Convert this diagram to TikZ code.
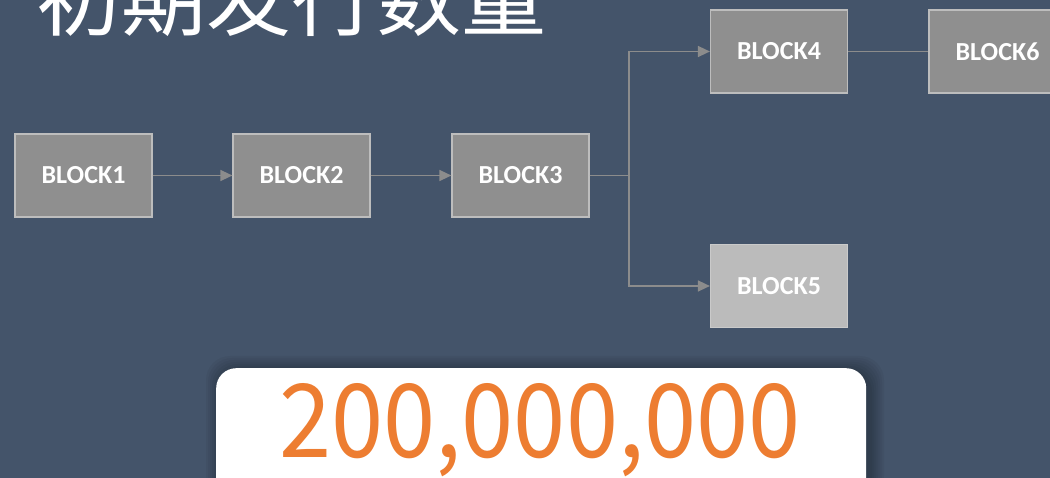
\documentclass[tikz,border=0pt]{standalone}
\usepackage{fontspec}
\setmainfont{Carlito}
\newfontfamily\cjkfont{Noto Sans CJK SC}
\newfontfamily\numfont[FakeStretch=0.92]{Noto Sans CJK SC}
\usetikzlibrary{arrows.meta}
\definecolor{slate}{HTML}{44546A}
\definecolor{blockfill}{HTML}{8F8F8F}
\definecolor{blockline}{HTML}{BDBDBD}
\definecolor{blocklight}{HTML}{BBBBBB}
\definecolor{blocklightline}{HTML}{CACACA}
\definecolor{linkgray}{HTML}{8C8C8C}
\definecolor{amountorange}{HTML}{ED7D31}

\begin{document}
\begin{tikzpicture}[x=1pt,y=-1pt]
% Block style
\tikzset{
    block/.style={draw=blockline, fill=blockfill, line width=1.2pt,
        minimum width=137pt, minimum height=83pt, text=white,
        font=\bfseries\fontsize{26}{30}\selectfont},
    link/.style={draw=linkgray, line width=1.5pt},
    tip/.style={-{Triangle[length=12pt,width=11pt]}}
}
% Background
\fill[slate] (0,0) rectangle (1050,478);
\useasboundingbox (0,0) rectangle (1050,478);
% Title
\node[anchor=base west, inner sep=0pt, text=white,
    font=\cjkfont\fontsize{85}{90}\selectfont] (title) at (36,30){初期发行数量};
% Blocks
\node[block] (B1) at (83.5,175.5){BLOCK1};
\node[block] (B2) at (301.5,175.5){BLOCK2};
\node[block] (B3) at (520.5,175.5){BLOCK3};
\node[block] (B4) at (779,51.5){BLOCK4};
\node[block] (B6) at (997.5,51.5){BLOCK6};
\node[block, fill=blocklight, draw=blocklightline] (B5) at (779,286){BLOCK5};
% Connection
\coordinate (fork) at (629,175.5);
\draw[link,tip] (B1) -- (B2);
\draw[link,tip] (B2) -- (B3);
\draw[link] (B3) -- (fork);
\draw[link,tip] (fork) |- (B4);
\draw[link,tip] (fork) |- (B5);
\draw[link] (B4) -- (B6);
% Amount box
\foreach \s in {2,4,...,14}
    \fill[black, opacity=0.04, rounded corners=24pt]
        (216-\s+4,368-\s+2) rectangle (866+\s+4,500);
\node[fill=white, rounded corners=20pt, minimum width=650pt,
    minimum height=130pt, anchor=north west] (box) at (216,368){};
\node[anchor=base, inner sep=0pt, text=amountorange,
    font=\numfont\fontsize{102}{110}\selectfont] (amount) at (540,457){200,000,000};
\end{tikzpicture}
\end{document}
